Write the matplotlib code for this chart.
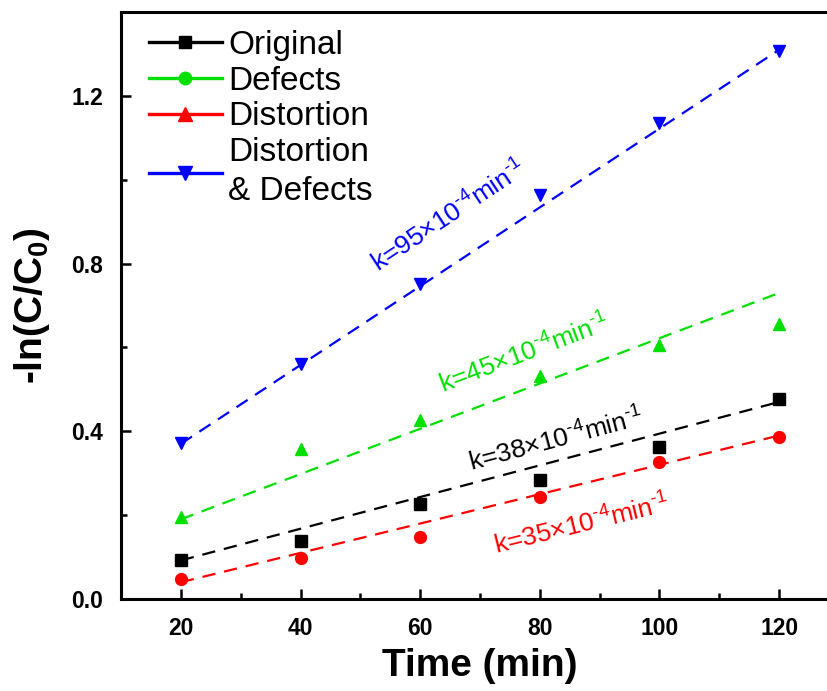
import matplotlib
matplotlib.use("Agg")
import matplotlib.pyplot as plt
from matplotlib.lines import Line2D

plt.rcParams['font.family'] = ['Liberation Sans', 'DejaVu Sans']
plt.rcParams['mathtext.fontset'] = 'custom'
plt.rcParams['mathtext.rm'] = 'Liberation Sans'
plt.rcParams['mathtext.it'] = 'Liberation Sans'
plt.rcParams['mathtext.bf'] = 'Liberation Sans:bold'
plt.rcParams['mathtext.default'] = 'regular'

# measured points
time = [20, 40, 60, 80, 100, 120]
original = [0.093, 0.138, 0.226, 0.283, 0.362, 0.476]
defects = [0.195, 0.357, 0.428, 0.533, 0.605, 0.657]
distortion = [0.048, 0.097, 0.148, 0.243, 0.326, 0.386]
dist_def = [0.371, 0.560, 0.752, 0.964, 1.136, 1.307]

# linear fit end points
fit_x = [20, 120]
fit_original = [0.092, 0.470]
fit_defects = [0.190, 0.730]
fit_distortion = [0.040, 0.390]
fit_dist_def = [0.370, 1.310]

# k labels: text, x, y, angle
k_labels = [r"k=95×10$^{\text{-4}}$min$^{\text{-1}}$",
            r"k=45×10$^{\text{-4}}$min$^{\text{-1}}$",
            r"k=38×10$^{\text{-4}}$min$^{\text{-1}}$",
            r"k=35×10$^{\text{-4}}$min$^{\text{-1}}$"]
k_x = [64.9, 77.5, 82.8, 87.0]
k_y = [0.914, 0.585, 0.379, 0.176]
k_angle = [33.5, 20.7, 14.9, 13.8]

BLACK, GREEN, RED, BLUE = 'black', '#00e000', '#ff0000', '#0000ff'
k_colors = [BLUE, GREEN, BLACK, RED]

fig = plt.figure(figsize=(8.28, 6.91), dpi=100)
ax = fig.add_axes([121/828, 92/691, 718/828, 587/691])

dash = dict(linestyle=(0, (6, 4)), linewidth=1.6)
ax.plot(fit_x, fit_original, color=BLACK, **dash)
ax.plot(fit_x, fit_defects, color=GREEN, **dash)
ax.plot(fit_x, fit_distortion, color=RED, **dash)
ax.plot(fit_x, fit_dist_def, color=BLUE, **dash)

ax.plot(time, original, 's', color=BLACK, ms=8, zorder=3)
ax.plot(time, defects, '^', color=GREEN, ms=9, zorder=3)
ax.plot(time, distortion, 'o', color=RED, ms=8.5, zorder=3)
ax.plot(time, dist_def, 'v', color=BLUE, ms=9, zorder=3)

for t, x, y, a, c in zip(k_labels, k_x, k_y, k_angle, k_colors):
    ax.text(x, y, t, color=c, fontsize=19, rotation=a, rotation_mode='anchor',
            ha='center', va='center')

handles = [
    Line2D([], [], color=BLACK, marker='s', ms=8, lw=2.4),
    Line2D([], [], color=GREEN, marker='o', ms=9, lw=2.4),
    Line2D([], [], color=RED, marker='^', ms=10, lw=2.4),
    Line2D([], [], color=BLUE, marker='v', ms=10, lw=2.4),
]
names = ['Original', 'Defects', 'Distortion', 'Distortion\n& Defects']
leg = ax.legend(handles, names, loc='upper left', bbox_to_anchor=(0.02, 0.992),
                frameon=False, fontsize=24, handlelength=2.2, handletextpad=0.18,
                labelspacing=0.14, borderaxespad=0.0)
for txt in leg.get_texts():
    txt.set_linespacing(1.35)

ax.set_xlim(10, 130)
ax.set_ylim(0, 1.4)
ax.set_xticks(time)
ax.set_xticks([30, 50, 70, 90, 110], minor=True)
ax.set_yticks([0.0, 0.4, 0.8, 1.2])
ax.set_yticks([0.2, 0.6, 1.0], minor=True)
ax.tick_params(which='both', direction='in', width=1.8, labelsize=16.5, pad=13)
ax.tick_params(which='major', length=7)
ax.tick_params(which='minor', length=4)
for lab in ax.get_xticklabels() + ax.get_yticklabels():
    lab.set_fontweight('bold')

ax.spines['right'].set_visible(False)
for s in ['left', 'bottom', 'top']:
    ax.spines[s].set_linewidth(2.2)

ax.set_xlabel('Time (min)', fontsize=28, fontweight='bold', labelpad=6)
ax.set_ylabel('-ln(C/C$_\\mathbf{0}$)', fontsize=28, fontweight='bold', labelpad=14)

fig.savefig('out.png', dpi=100)
